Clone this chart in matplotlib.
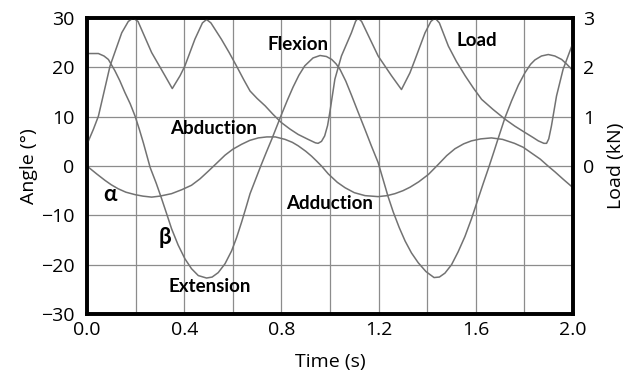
import numpy as np
import matplotlib.pyplot as plt

# Daten: Winkel beta (Flexion/Extension)
t_beta = [0.0, 0.047, 0.07, 0.088, 0.115, 0.135, 0.156, 0.178, 0.198, 0.215, 0.232,
          0.26, 0.285, 0.307, 0.328, 0.348, 0.375, 0.403, 0.43, 0.458, 0.492, 0.515,
          0.54, 0.568, 0.595, 0.615, 0.636, 0.655, 0.671, 0.693, 0.715, 0.738, 0.76,
          0.8, 0.825, 0.848, 0.872, 0.896, 0.93, 0.959, 0.985, 1.007, 1.025, 1.041,
          1.065, 1.088, 1.115, 1.144, 1.17, 1.198, 1.22, 1.239, 1.26, 1.285, 1.309,
          1.335, 1.363, 1.395, 1.428, 1.45, 1.473, 1.50, 1.527, 1.555, 1.582, 1.605,
          1.63, 1.655, 1.675, 1.692, 1.72, 1.747, 1.775, 1.802, 1.825, 1.843, 1.87,
          1.898, 1.925, 1.953, 1.975, 2.0]
beta = [22.8, 22.8, 22.3, 21.6, 19.3, 17.3, 14.9, 12.6, 10.1, 7.5, 4.7,
        -0.3, -3.5, -6.6, -9.7, -12.7, -16.0, -18.8, -20.8, -22.2, -22.7, -22.5,
        -21.6, -19.8, -17.2, -14.6, -11.4, -8.3, -5.6, -2.8, 0.0, 2.8, 5.4,
        10.4, 13.4, 16.0, 18.4, 20.3, 21.9, 22.4, 22.2, 21.6, 20.7, 19.6,
        17.2, 14.4, 11.0, 7.4, 4.1, 0.7, -3.0, -6.2, -9.3, -12.5, -15.2,
        -17.6, -19.6, -21.4, -22.6, -22.5, -21.7, -20.0, -17.4, -14.3, -10.7, -7.3,
        -3.6, 0.0, 3.0, 5.6, 9.8, 13.2, 16.4, 18.9, 20.6, 21.5, 22.3,
        22.6, 22.3, 21.6, 20.6, 19.3]

# Winkel alpha (Abduktion/Adduktion)
t_alpha = [0.0, 0.04, 0.074, 0.10, 0.128, 0.16, 0.198, 0.23, 0.266, 0.30, 0.348,
           0.39, 0.43, 0.465, 0.498, 0.53, 0.568, 0.60, 0.636, 0.67, 0.705, 0.74,
           0.775, 0.815, 0.845, 0.869, 0.90, 0.924, 0.945, 0.965, 0.993, 1.03, 1.062,
           1.10, 1.144, 1.198, 1.235, 1.267, 1.30, 1.329, 1.365, 1.405, 1.445, 1.48,
           1.514, 1.55, 1.582, 1.62, 1.664, 1.71, 1.759, 1.795, 1.827, 1.865, 1.897,
           1.926, 1.96, 2.0]
alpha = [0.0, -1.6, -2.9, -3.8, -4.6, -5.3, -5.8, -6.1, -6.3, -6.1, -5.6,
         -4.8, -3.9, -2.6, -1.1, 0.4, 2.2, 3.4, 4.4, 5.2, 5.7, 5.9,
         5.9, 5.4, 4.8, 4.1, 3.0, 2.0, 1.0, 0.0, -1.6, -3.3, -4.4,
         -5.4, -6.0, -6.2, -6.0, -5.6, -5.0, -4.3, -3.2, -1.7, 0.3, 2.1,
         3.5, 4.5, 5.1, 5.5, 5.7, 5.4, 4.6, 3.8, 2.7, 1.4, 0.0,
         -1.2, -2.7, -4.4]

# Last (kN)
t_load = [0.0, 0.026, 0.047, 0.095, 0.143, 0.17, 0.19, 0.21, 0.266, 0.321, 0.351,
          0.383, 0.403, 0.444, 0.475, 0.492, 0.51, 0.553, 0.585, 0.615, 0.645, 0.671,
          0.70, 0.733, 0.765, 0.8, 0.835, 0.869, 0.91, 0.94, 0.951, 0.965, 0.978,
          0.99, 0.999, 1.02, 1.047, 1.088, 1.105, 1.115, 1.13, 1.198, 1.253, 1.294,
          1.329, 1.35, 1.391, 1.415, 1.432, 1.45, 1.487, 1.52, 1.556, 1.59, 1.624,
          1.67, 1.72, 1.76, 1.802, 1.835, 1.857, 1.88, 1.891, 1.90, 1.911, 1.932,
          1.959, 2.0]
load = [0.44, 0.74, 1.01, 2.03, 2.70, 2.93, 3.0, 2.93, 2.30, 1.83, 1.57,
        1.83, 2.03, 2.57, 2.90, 2.97, 2.90, 2.57, 2.30, 2.03, 1.75, 1.52,
        1.37, 1.22, 1.05, 0.88, 0.75, 0.64, 0.54, 0.47, 0.46, 0.50, 0.61,
        0.82, 1.08, 1.76, 2.23, 2.70, 2.93, 3.0, 2.93, 2.23, 1.83, 1.55,
        1.89, 2.16, 2.70, 2.93, 3.0, 2.90, 2.43, 2.12, 1.83, 1.58, 1.35,
        1.15, 0.95, 0.81, 0.68, 0.58, 0.51, 0.46, 0.46, 0.55, 0.81, 1.42,
        1.96, 2.5]

x_ticks = [0.0, 0.4, 0.8, 1.2, 1.6, 2.0]

plt.rcParams['font.family'] = ['Open Sans', 'DejaVu Sans']

fig = plt.figure(figsize=(6.28, 3.83), dpi=100)
ax = fig.add_axes([0.1385, 0.180, 0.774, 0.773])
ax2 = ax.twinx()

kurve = '#727272'
ax.plot(t_beta, beta, color=kurve, lw=1.1)
ax.plot(t_alpha, alpha, color=kurve, lw=1.1)
ax2.plot(t_load, load, color=kurve, lw=1.1)

ax.set_xlim(0, 2.0)
ax.set_ylim(-30, 30)
ax2.set_ylim(-3, 3)
ax.set_xticks(x_ticks)
ax.set_xticklabels(['%.1f' % v for v in x_ticks])
ax.set_xticks(np.arange(0, 2.01, 0.2), minor=True)
ax.set_yticks(range(-30, 31, 10))
ax2.set_yticks([0, 1, 2, 3])

ax.grid(True, which='both', axis='x', color='#8c8c8c', lw=0.9)
ax.grid(True, which='major', axis='y', color='#8c8c8c', lw=0.9)
ax.set_axisbelow(True)

ax.tick_params(axis='x', which='both', length=0, labelsize=14, pad=5)
ax.tick_params(axis='y', which='both', length=0, labelsize=14, pad=9)
ax2.tick_params(axis='y', length=0, labelsize=14, pad=7)
for a in (ax, ax2):
    for s in a.spines.values():
        s.set_linewidth(2.6)
        s.set_color('black')

ax.set_xlabel('Time (s)', fontsize=14, labelpad=10)
ax.set_ylabel('Angle (°)', fontsize=14, labelpad=2)
ax2.set_ylabel('Load (kN)', fontsize=14, labelpad=9)

# Beschriftungen
bold = dict(fontsize=13.5, fontweight='bold', ha='center', va='center',
            family=['Lato', 'DejaVu Sans'])
ax.text(0.868, 24.7, 'Flexion', **bold)
ax.text(1.604, 25.5, 'Load', **bold)
ax.text(0.521, 7.7, 'Abduction', **bold)
ax.text(1.0, -7.6, 'Adduction', **bold)
ax.text(0.506, -24.4, 'Extension', **bold)
ax.text(0.095, -5.8, 'α', fontsize=16, fontweight='bold', ha='center', va='center',
        family=['Lato', 'DejaVu Sans'])
ax.text(0.319, -14.5, 'β', fontsize=16, fontweight='bold', ha='center', va='center',
        family=['Lato', 'DejaVu Sans'])

fig.savefig('out.png', dpi=100)
